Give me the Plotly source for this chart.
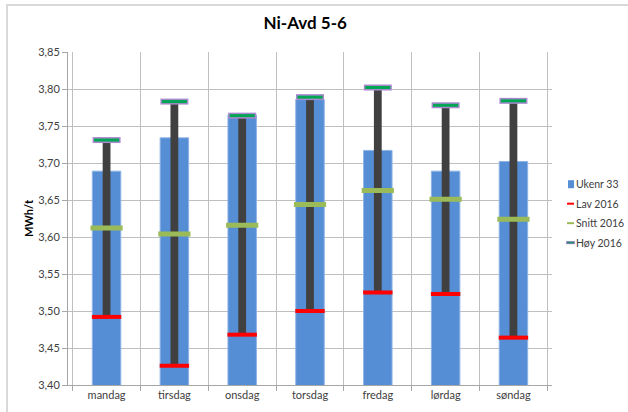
import plotly.graph_objects as go

# Ukedager og verdier (MWh/t)
dager = ["mandag", "tirsdag", "onsdag", "torsdag", "fredag", "lørdag", "søndag"]
ukenr_33 = [3.689, 3.734, 3.765, 3.786, 3.717, 3.689, 3.702]
lav_2016 = [3.492, 3.426, 3.468, 3.500, 3.525, 3.523, 3.464]
snitt_2016 = [3.612, 3.604, 3.616, 3.644, 3.663, 3.651, 3.624]
hoy_2016 = [3.731, 3.783, 3.764, 3.789, 3.802, 3.778, 3.784]

y_ticks = [3.40, 3.45, 3.50, 3.55, 3.60, 3.65, 3.70, 3.75, 3.80, 3.85]

FONT = "Lato"
TXT = "#404040"
BLUE = "#558ed5"
RED = "#ff0000"
LGREEN = "#9bbb59"
DGREEN = "#00a651"
PURPLE = "#a989d0"

fig = go.Figure()

# Søyler for uke 33
fig.add_trace(go.Bar(
    x=dager, y=ukenr_33, name="Ukenr 33", width=0.42,
    marker=dict(color=BLUE, line=dict(color="#8fb4e6", width=1)),
))

# Spenn mellom lav og høy 2016
fig.add_trace(go.Bar(
    x=dager, y=[h - l for h, l in zip(hoy_2016, lav_2016)], base=lav_2016,
    width=0.115, marker=dict(color="#404040", line=dict(width=0)),
    hoverinfo="skip",
))

fig.add_trace(go.Scatter(
    x=dager, y=lav_2016, name="Lav 2016", mode="markers",
    marker=dict(symbol="line-ew", size=21, color=RED,
                line=dict(color=RED, width=4)),
))
fig.add_trace(go.Scatter(
    x=dager, y=snitt_2016, name="Snitt 2016", mode="markers",
    marker=dict(symbol="line-ew", size=23, color=LGREEN,
                line=dict(color=LGREEN, width=5)),
))
# Høy 2016: lilla kant under grønn strek
fig.add_trace(go.Scatter(
    x=dager, y=hoy_2016, mode="markers", hoverinfo="skip",
    marker=dict(symbol="line-ew", size=20, color=PURPLE,
                line=dict(color=PURPLE, width=6)),
))
fig.add_trace(go.Scatter(
    x=dager, y=hoy_2016, name="Høy 2016", mode="markers",
    marker=dict(symbol="line-ew", size=18, color=DGREEN,
                line=dict(color=DGREEN, width=3)),
))

# Ramme rundt diagramområdet
fig.add_shape(type="rect", xref="paper", yref="paper",
              x0=-0.126, x1=1.4, y0=-0.3, y1=1.141,
              line=dict(color="#d9d9d9", width=2), layer="below")

# Forklaring til høyre for plottet
legend_items = [
    ("Ukenr 33", "box", BLUE, None),
    ("Lav 2016", "line", RED, None),
    ("Snitt 2016", "line", LGREEN, None),
    ("Høy 2016", "line", "#2e8b74", PURPLE),
]
LEG_X = 1.029   # venstre kant av symbolene (papir)
LEG_Y0 = 0.603  # første rad (papir)
LEG_DY = 0.0585
for i, (label, kind, color, edge) in enumerate(legend_items):
    yc = LEG_Y0 - i * LEG_DY
    if kind == "box":
        fig.add_shape(type="rect", xref="paper", yref="paper",
                      xsizemode="pixel", ysizemode="pixel",
                      xanchor=LEG_X, yanchor=yc, x0=2, x1=8, y0=-4, y1=4,
                      fillcolor=color, line=dict(width=0))
    else:
        if edge:
            fig.add_shape(type="rect", xref="paper", yref="paper",
                          xsizemode="pixel", ysizemode="pixel",
                          xanchor=LEG_X, yanchor=yc, x0=0, x1=9, y0=-1.5, y1=1.5,
                          fillcolor=edge, line=dict(width=0))
        fig.add_shape(type="rect", xref="paper", yref="paper",
                      xsizemode="pixel", ysizemode="pixel",
                      xanchor=LEG_X, yanchor=yc, x0=1, x1=8, y0=-1, y1=1,
                      fillcolor=color, line=dict(width=0))
    fig.add_annotation(x=LEG_X, y=yc, xref="paper", yref="paper",
                       text=label, showarrow=False, xanchor="left",
                       yanchor="middle", xshift=8,
                       font=dict(family=FONT, size=10.5, color=TXT))

fig.update_layout(
    width=628, height=412,
    margin=dict(l=68, r=76, t=52, b=27),
    paper_bgcolor="white", plot_bgcolor="white",
    barmode="overlay",
    showlegend=False,
    separators=", ",
    font=dict(family=FONT, size=11, color=TXT),
    title=dict(text="<b>Ni-Avd 5-6</b>", x=0.486, xanchor="center",
               y=0.943, yanchor="middle",
               font=dict(family=FONT, size=17, color="#000000")),
    xaxis=dict(
        type="category", tickson="boundaries", ticks="outside", ticklen=5,
        tickcolor="#a6a6a6", showgrid=True, gridcolor="#bfbfbf", gridwidth=1,
        showline=True, linecolor="#a6a6a6", linewidth=1,
        tickfont=dict(family=FONT, size=11, color=TXT),
    ),
    yaxis=dict(
        range=[3.40, 3.85], tickvals=y_ticks, tickformat=".2f",
        ticks="outside", ticklen=5, tickcolor="#a6a6a6",
        showgrid=True, gridcolor="#bfbfbf", gridwidth=1,
        showline=True, linecolor="#a6a6a6", linewidth=1, zeroline=False,
        tickfont=dict(family=FONT, size=11, color=TXT),
        title=dict(text="<b>MWh/t</b>", standoff=2,
                   font=dict(family=FONT, size=11, color="#000000")),
    ),
)

fig.write_html("out.html")
